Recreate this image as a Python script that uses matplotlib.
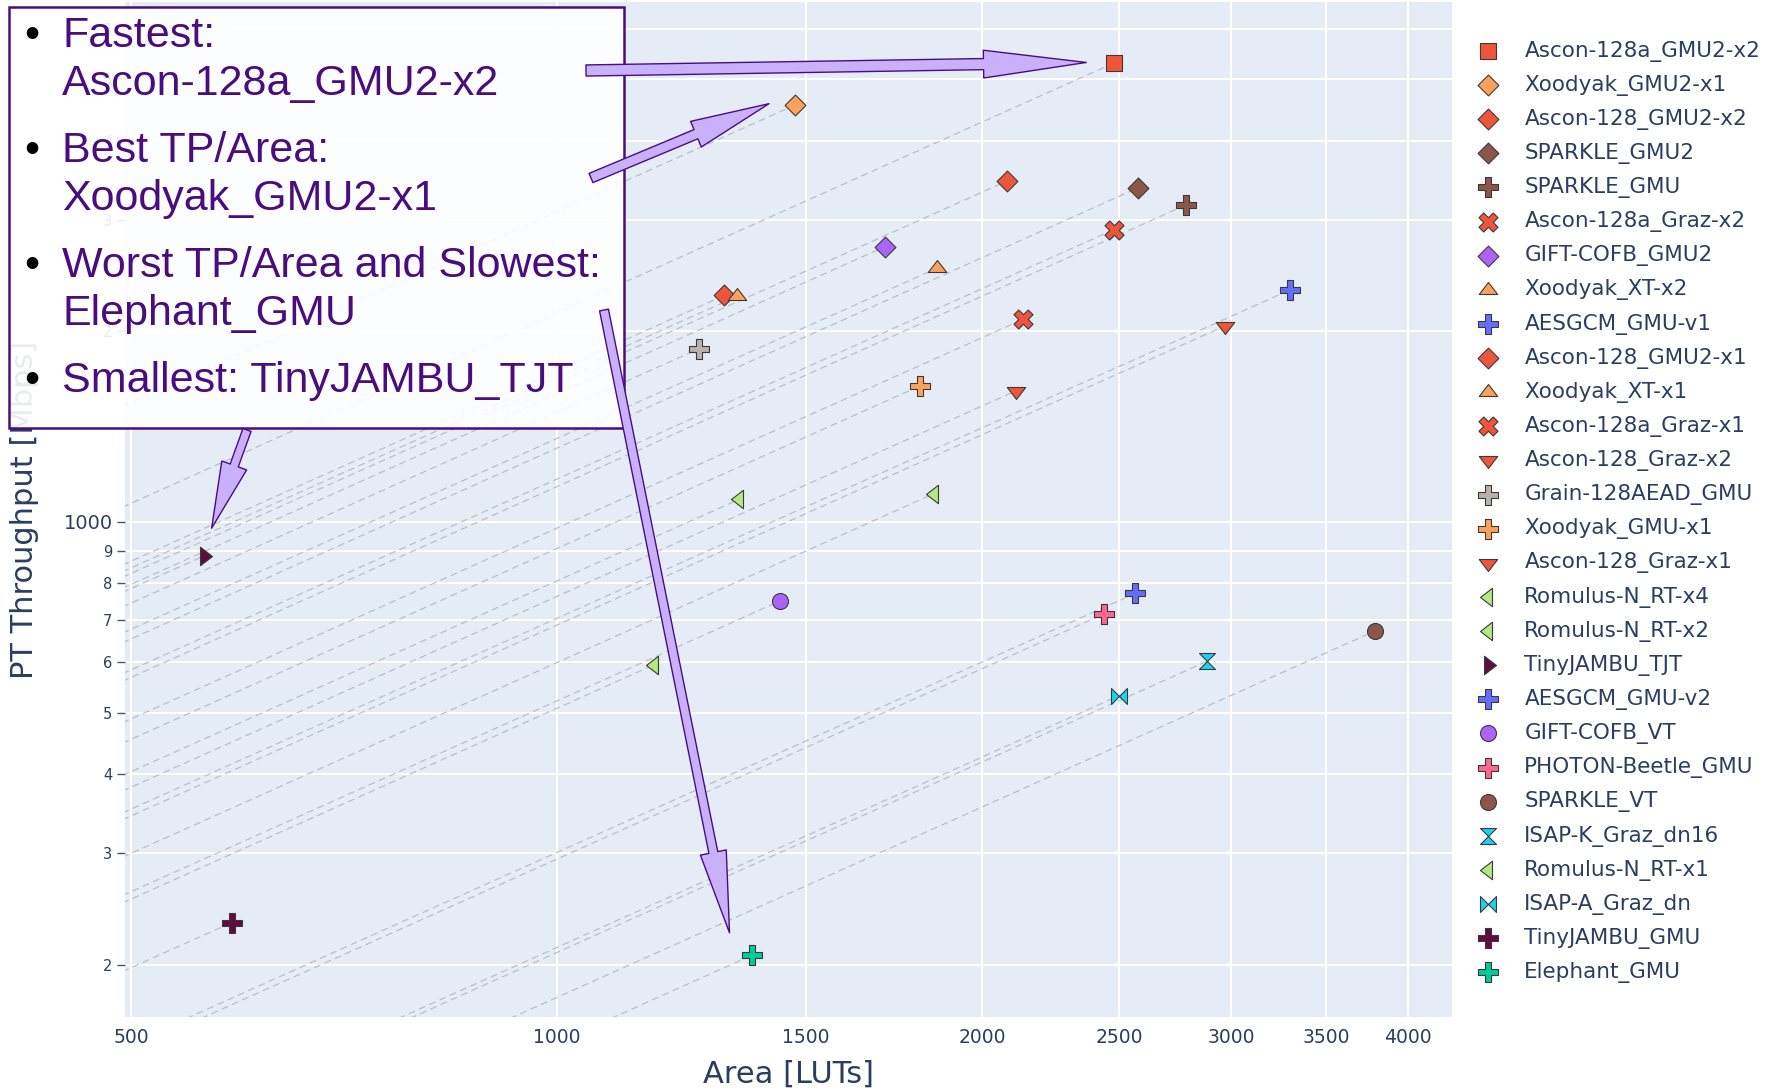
import matplotlib
matplotlib.use("Agg")
import matplotlib.pyplot as plt
from matplotlib.patches import Rectangle
from matplotlib.path import Path
from matplotlib.text import Annotation
from matplotlib.ticker import FixedLocator, NullLocator

W, H = 1776, 1091

INK = "#2a3f5f"
PLOT_BG = "#e5ecf6"
BOX_INK = "#4a0d80"
ARROW_FC = "#c8b1f8"
ARROW_EC = "#4b0c82"

# ---- data ----
names = [
    "Ascon-128a_GMU2-x2", "Xoodyak_GMU2-x1", "Ascon-128_GMU2-x2", "SPARKLE_GMU2",
    "SPARKLE_GMU", "Ascon-128a_Graz-x2", "GIFT-COFB_GMU2", "Xoodyak_XT-x2",
    "AESGCM_GMU-v1", "Ascon-128_GMU2-x1", "Xoodyak_XT-x1", "Ascon-128a_Graz-x1",
    "Ascon-128_Graz-x2", "Grain-128AEAD_GMU", "Xoodyak_GMU-x1", "Ascon-128_Graz-x1",
    "Romulus-N_RT-x4", "Romulus-N_RT-x2", "TinyJAMBU_TJT", "AESGCM_GMU-v2",
    "GIFT-COFB_VT", "PHOTON-Beetle_GMU", "SPARKLE_VT", "ISAP-K_Graz_dn16",
    "Romulus-N_RT-x1", "ISAP-A_Graz_dn", "TinyJAMBU_GMU", "Elephant_GMU",
]
area = [2477, 1473, 2083, 2579, 2787, 2477, 1707, 1858, 3303, 1314, 1341, 2138,
        2968, 1261, 1807, 2114, 1848, 1346, 563, 2565, 1438, 2440, 3793, 2886,
        1172, 2500, 589, 1375]
throughput = [5303, 4551, 3456, 3372, 3168, 2894, 2721, 2516, 2326, 2279, 2270,
              2090, 2039, 1878, 1640, 1612, 1108, 1086, 884, 771, 750, 716, 673,
              603, 595, 532, 233, 207]
symbols = ["square", "diamond", "diamond", "diamond", "cross", "x", "diamond",
           "tri-up", "cross", "diamond", "tri-up", "x", "tri-down", "cross",
           "cross", "tri-down", "tri-left", "tri-left", "tri-right", "cross",
           "circle", "cross", "circle", "hourglass", "tri-left", "bowtie",
           "cross", "cross"]
colors = ["#ef553b", "#ffa15a", "#ef553b", "#8c564b", "#8c564b", "#ef553b",
          "#ab63fa", "#ffa15a", "#636efa", "#ef553b", "#ffa15a", "#ef553b",
          "#ef553b", "#bab0ac", "#ffa15a", "#ef553b", "#b6e880", "#b6e880",
          "#620b40", "#636efa", "#ab63fa", "#ff6692", "#8c564b", "#19d3f3",
          "#b6e880", "#19d3f3", "#620b40", "#00cc96"]

x_ticks = [500, 1000, 1500, 2000, 2500, 3000, 3500, 4000]
y_ticks = [200, 300, 400, 500, 600, 700, 800, 900, 1000, 2000, 3000, 4000, 5000, 6000]
y_labels = ["2", "3", "4", "5", "6", "7", "8", "9", "1000", "2", "3", "4", "5", "6"]

notes = [
    ["Fastest:", "Ascon-128a_GMU2-x2"],
    ["Best TP/Area:", "Xoodyak_GMU2-x1"],
    ["Worst TP/Area and Slowest:", "Elephant_GMU"],
    ["Smallest: TinyJAMBU_TJT"],
]

# ---- plotly-like marker shapes ----
r3 = 1.155
TRI = {
    "tri-up": [(0, 1), (r3, -0.5), (-r3, -0.5), (0, 1)],
    "tri-down": [(0, -1), (r3, 0.5), (-r3, 0.5), (0, -1)],
    "tri-left": [(-1, 0), (0.5, r3), (0.5, -r3), (-1, 0)],
    "tri-right": [(1, 0), (-0.5, r3), (-0.5, -r3), (1, 0)],
}
MARKERS = {
    "square": ("s", 11.5),
    "circle": ("o", 11.5),
    "diamond": ("D", 10.6),
    "cross": ("P", 13.8),
    "x": ("X", 13.7),
    "hourglass": (Path([(1, 1), (-1, 1), (1, -1), (-1, -1), (1, 1)], closed=True), 11.5),
    "bowtie": (Path([(1, 1), (1, -1), (-1, 1), (-1, -1), (1, 1)], closed=True), 11.5),
}
for k, v in TRI.items():
    MARKERS[k] = (Path(v, closed=True), 13.3)


def px_to_fig(x, y):
    return x / W, 1 - y / H


def main():
    fig = plt.figure(figsize=(W / 100, H / 100), dpi=100, facecolor="white")
    left, top, right, bottom = 125, 2, 1452, 1017
    ax = fig.add_axes([left / W, 1 - bottom / H, (right - left) / W, (bottom - top) / H])
    ax.set_facecolor(PLOT_BG)
    ax.set_xscale("log")
    ax.set_yscale("log")
    ax.set_xlim(495, 4298)
    ax.set_ylim(165.3, 6623)
    for s in ax.spines.values():
        s.set_visible(False)

    # iso TP/Area guide lines, from the far left up to each design
    for a, t in zip(area, throughput):
        k = t / a
        ax.plot([100, a], [100 * k, t], color="#b4b8c0", lw=0.9,
                ls=(0, (5.5, 3.5)), zorder=2, alpha=0.85)

    for n, a, t, sym, c in zip(names, area, throughput, symbols, colors):
        m, ms = MARKERS[sym]
        ax.scatter([a], [t], marker=m, s=ms ** 2, c=c, edgecolors="#3a3a3a",
                   linewidths=0.8, zorder=4, label=n)

    ax.xaxis.set_major_locator(FixedLocator(x_ticks))
    ax.xaxis.set_minor_locator(NullLocator())
    ax.set_xticklabels([str(v) for v in x_ticks])
    ax.yaxis.set_major_locator(FixedLocator(y_ticks))
    ax.yaxis.set_minor_locator(NullLocator())
    ax.set_yticklabels(y_labels)
    ax.grid(True, color="white", lw=1.5)
    ax.set_axisbelow(True)
    ax.tick_params(axis="x", length=0, pad=8, labelsize=13.5, labelcolor=INK)
    ax.tick_params(axis="y", length=6, width=1, color="#555", direction="out",
                   pad=3, labelsize=10.5, labelcolor=INK)
    for lab in ax.get_yticklabels():
        if lab.get_text() == "1000":
            lab.set_fontsize(14)

    ax.set_xlabel("Area [LUTs]", fontsize=22, color=INK, va="center")
    ax.xaxis.set_label_coords(0.5, (bottom - 1074) / (bottom - top))
    ax.set_ylabel("PT Throughput [Mbps]", fontsize=22, color=INK, va="center")
    ax.yaxis.set_label_coords((25 - left) / (right - left), 0.5)

    ax.legend(loc="upper left", bbox_to_anchor=px_to_fig(1477, 40.5),
              bbox_transform=fig.transFigure, frameon=False, fontsize=15.5,
              labelcolor=INK, handlelength=1.0, handletextpad=1.2,
              labelspacing=0.61, borderpad=0, borderaxespad=0)

    # ---- callout box ----
    bx0, by0, bx1, by1 = 9, 7, 624, 428
    fig.add_artist(Rectangle(px_to_fig(bx0, by1), (bx1 - bx0) / W, (by1 - by0) / H,
                             transform=fig.transFigure, fc=(1, 1, 1, 0.9),
                             ec=BOX_INK, lw=1.8, zorder=10))
    y = 46.7
    for item in notes:
        fig.text(*px_to_fig(32, y), "\u2022", fontsize=31, color="black",
                 family="Liberation Sans", ha="center", va="baseline", zorder=11)
        for line in item:
            fig.text(*px_to_fig(62, y), line, fontsize=31, color=BOX_INK,
                     family="Liberation Sans", ha="left", va="baseline", zorder=11)
            y += 48
        y += 67 - 48

    # ---- block arrows (tail in figure pixels, tip in data coords) ----
    arrows = [
        ((586, 70.5), (2369, 5316), 74, 20, 8),
        ((591, 178), (1413, 4576), 57, 20, 7.2),
        ((247, 430), (570, 977.6), 48, 19, 6.2),
        ((604, 310), (1325, 224.5), 59, 19, 6.5),
    ]
    for (tx, ty), tip, hl, hw, tw in arrows:
        ann = Annotation(
            "", xy=tip, xycoords=ax.transData,
            xytext=(tx, H - ty), textcoords="figure pixels",
            arrowprops=dict(
                arrowstyle=f"simple,head_length={hl},head_width={hw},tail_width={tw}",
                mutation_scale=1, fc=ARROW_FC, ec=ARROW_EC, lw=1.0,
                shrinkA=0, shrinkB=0))
        ann.set_zorder(12)
        fig.add_artist(ann)

    fig.savefig("out.png", dpi=100, facecolor="white")


if __name__ == "__main__":
    main()
